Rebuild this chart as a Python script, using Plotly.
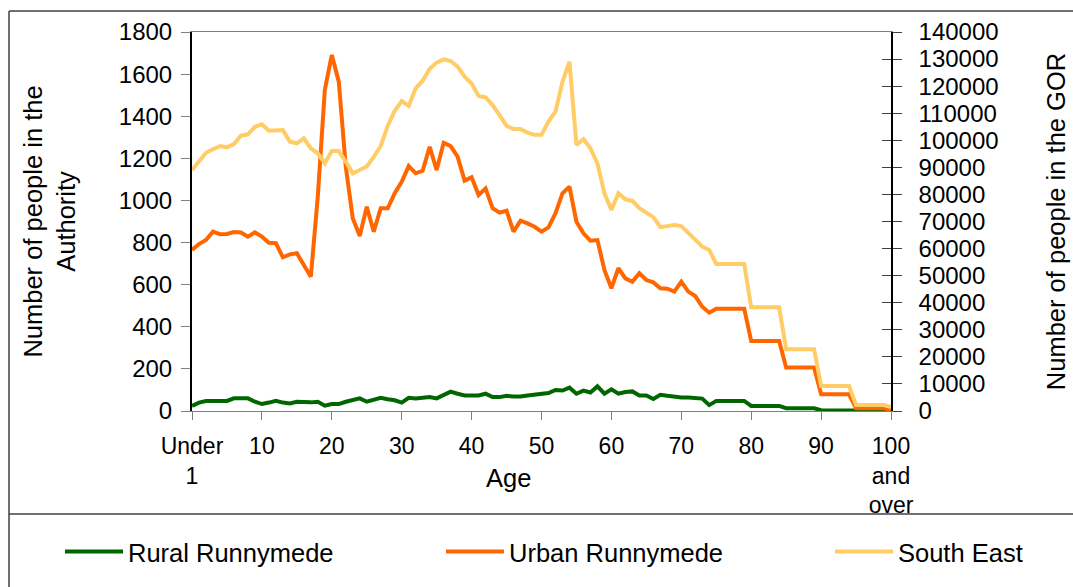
import plotly.graph_objects as go

ages = list(range(101))
age_labels = ["Under 1"] + [str(a) for a in range(1, 100)] + ["100 and over"]
tick_positions = [0, 10, 20, 30, 40, 50, 60, 70, 80, 90, 100]
tick_text = ["Under<br>1", "10", "20", "30", "40", "50", "60", "70", "80", "90", "100<br>and<br>over"]

rural_runnymede = [
    24, 40, 47, 48, 48, 48, 60, 60, 60, 44,
    33, 40, 48, 40, 36, 44, 41, 41, 44, 25,
    33, 33, 44, 51, 60, 44, 56, 63, 56, 51,
    40, 63, 60, 62, 66, 60, 76, 92, 82, 74,
    74, 74, 82, 66, 66, 72, 69, 69, 74, 77,
    80, 85, 100, 97, 111, 82, 97, 88, 117, 82,
    103, 82, 90, 93, 74, 74, 57, 77, 72, 66,
    64, 64, 62, 59, 28, 48, 48, 48, 48, 48,
    24, 24, 24, 24, 24, 13, 13, 13, 13, 13,
    4, 4, 4, 4, 4, 1, 1, 1, 1, 1,
    1,
]

urban_runnymede = [
    765, 793, 812, 852, 840, 841, 850, 848, 828, 848,
    828, 799, 797, 730, 744, 749, 693, 638, 1020, 1524,
    1691, 1564, 1160, 915, 831, 970, 852, 963, 963, 1034,
    1089, 1163, 1129, 1141, 1255, 1144, 1274, 1258, 1208, 1094,
    1110, 1026, 1057, 963, 942, 951, 852, 904, 891, 875,
    852, 872, 939, 1034, 1065, 899, 844, 809, 812, 670,
    583, 678, 630, 614, 654, 622, 611, 583, 581, 567,
    614, 567, 546, 495, 467, 486, 486, 486, 486, 486,
    332, 332, 332, 332, 332, 207, 207, 207, 207, 207,
    79, 79, 79, 79, 79, 13, 13, 13, 13, 13,
    5,
]

south_east = [
    89000, 92500, 95400, 96700, 97900, 97400, 98600, 101700, 102200, 105000,
    105900, 103500, 103500, 103800, 99500, 98900, 100700, 97000, 95200, 91500,
    96000, 96000, 92100, 87800, 89000, 90300, 93900, 97900, 105300, 110900,
    114500, 112700, 119200, 122000, 126400, 128700, 129900, 129300, 127200, 123500,
    121000, 116400, 115900, 113000, 109300, 105300, 104200, 104200, 102800, 102000,
    102000, 106900, 110600, 121600, 129000, 98300, 100400, 97000, 91500, 80400,
    74300, 80400, 78200, 77600, 74900, 73300, 71600, 67900, 68300, 68700,
    68300, 65600, 63200, 60700, 59500, 54300, 54300, 54300, 54300, 54300,
    38300, 38300, 38300, 38300, 38300, 22800, 22800, 22800, 22800, 22800,
    9200, 9200, 9200, 9200, 9200, 2200, 2200, 2200, 2200, 2200,
    1400,
]

FONT = "Liberation Sans, Arial, sans-serif"
W, H = 1073, 587
L, R, T, B = 192, 891, 32, 411


def px_x(p):
    return (p - L) / (R - L)


def px_y(p):
    return (B - p) / (B - T)


fig = go.Figure()
fig.add_trace(go.Scatter(x=ages, y=rural_runnymede, name="Rural Runnymede", mode="lines",
                         line=dict(color="#006600", width=4), customdata=age_labels,
                         legend="legend",
                         hovertemplate="%{customdata}: %{y}<extra></extra>"))
fig.add_trace(go.Scatter(x=ages, y=urban_runnymede, name="Urban Runnymede", mode="lines",
                         line=dict(color="#FF6600", width=4), customdata=age_labels,
                         legend="legend2",
                         hovertemplate="%{customdata}: %{y}<extra></extra>"))
fig.add_trace(go.Scatter(x=ages, y=south_east, name="South East", mode="lines", yaxis="y2",
                         line=dict(color="#FFCC66", width=4), customdata=age_labels,
                         legend="legend3",
                         hovertemplate="%{customdata}: %{y}<extra></extra>"))
fig.add_trace(go.Scatter(x=[None], y=[None], yaxis="y3", showlegend=False, hoverinfo="skip"))


def leg(xpix):
    return dict(orientation="h", x=px_x(xpix), y=px_y(552), xanchor="left", yanchor="middle",
                font=dict(size=25.5), bgcolor="rgba(0,0,0,0)", itemwidth=58)


fig.update_layout(
    width=W, height=H,
    margin=dict(l=L, r=W - R, t=T, b=H - B, autoexpand=False),
    paper_bgcolor="white", plot_bgcolor="white",
    font=dict(family=FONT, size=24, color="black"),
    showlegend=True,
    legend=leg(60), legend2=leg(441), legend3=leg(830),
    xaxis=dict(range=[0, 100], tickmode="array", tickvals=tick_positions, ticktext=tick_text,
               ticks="outside", ticklen=8, tickcolor="#808080", tickwidth=1,
               showline=True, linecolor="#808080", linewidth=1, mirror=True,
               showgrid=False, zeroline=False, ticklabelstandoff=6,
               tickfont=dict(size=23)),
    yaxis=dict(range=[0, 1800], dtick=200, tick0=0, ticks="outside", ticklen=9,
               tickcolor="#808080", showline=True, linecolor="black", linewidth=2,
               showgrid=False, zeroline=False, ticklabelstandoff=4,
               tickfont=dict(size=24),
               title=dict(text="Number of people in the<br>Authority", standoff=36,
                          font=dict(size=25.5))),
    yaxis2=dict(range=[0, 140000], dtick=10000, tick0=0, overlaying="y", side="right",
                anchor="x", ticks="outside", ticklen=9, tickcolor="#404040",
                tickformat="d", tickfont=dict(size=24),
                showline=True, linecolor="black", linewidth=1.5,
                showgrid=False, zeroline=False, ticklabelstandoff=12,
                title=dict(text="Number of people in the GOR", standoff=50,
                           font=dict(size=25.5))),
    yaxis3=dict(range=[0, 140000], dtick=10000, tick0=0, overlaying="y", side="right",
                anchor="x", ticks="inside", ticklen=9, tickcolor="#404040",
                showticklabels=False, showline=False, showgrid=False, zeroline=False),
    annotations=[dict(text="Age", x=px_x(508), y=px_y(478), xref="paper", yref="paper",
                      showarrow=False, font=dict(size=25.5), xanchor="center", yanchor="middle")],
    shapes=[
        dict(type="line", xref="paper", yref="paper", x0=px_x(9), x1=px_x(1080),
             y0=px_y(11), y1=px_y(11), line=dict(color="#404040", width=1.5)),
        dict(type="line", xref="paper", yref="paper", x0=px_x(9), x1=px_x(9),
             y0=px_y(11), y1=px_y(600), line=dict(color="#404040", width=1.5)),
        dict(type="line", xref="paper", yref="paper", x0=px_x(9), x1=px_x(1080),
             y0=px_y(514), y1=px_y(514), line=dict(color="#404040", width=1.5)),
    ],
)

fig.write_html("out.html", post_script="document.body.style.margin='0px';",
               config={"displayModeBar": False})
